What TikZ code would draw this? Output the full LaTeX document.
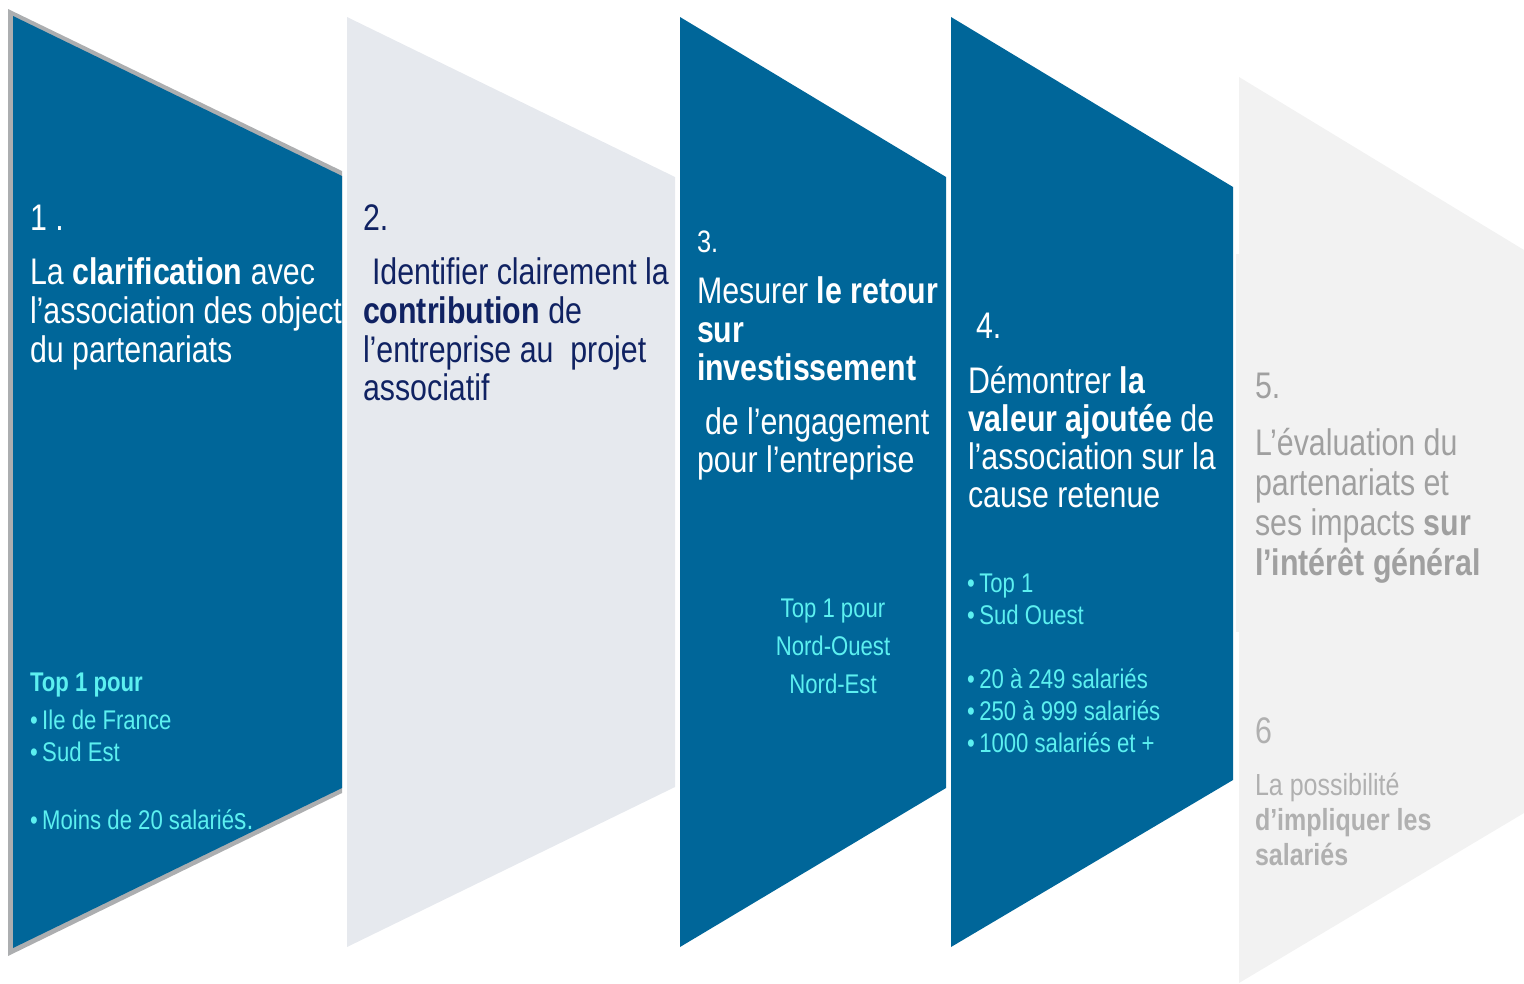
\documentclass[tikz,border=0pt]{standalone}
\usepackage{fontspec}
\setmainfont{Liberation Sans}[FakeStretch=0.82]
\definecolor{blueF}{RGB}{0,102,153}
\definecolor{edgeG}{RGB}{172,174,176}
\definecolor{lightA}{RGB}{230,233,238}
\definecolor{lightB}{RGB}{242,242,242}
\definecolor{navyT}{RGB}{16,34,98}
\definecolor{cyanT}{RGB}{92,240,240}
\definecolor{grayT}{RGB}{160,160,160}
\definecolor{grayU}{RGB}{176,176,176}
\tikzset{
  txt/.style={anchor=base west, inner sep=0pt, outer sep=0pt},
  bigf/.style={font=\fontsize{37}{39}\selectfont},
  midf/.style={font=\fontsize{31}{33}\selectfont},
  smallf/.style={font=\fontsize{27}{29}\selectfont},
  sixf/.style={font=\fontsize{30.5}{32}\selectfont},
}
\begin{document}
\begin{tikzpicture}[x=1pt,y=-1pt]
\useasboundingbox (0,0) rectangle (1524,983);
% shape 1 with grey edge
\fill[edgeG] (8,9) -- (342,171) -- (342,793) -- (8,956) -- cycle;
\fill[blueF] (13,16) -- (342,176) -- (342,788) -- (13,948) -- cycle;
\begin{scope}
\clip (13,16) -- (342,176) -- (342,788) -- (13,948) -- cycle;
\node[txt,bigf,white] (n1) at (30,230) {1 .};
\node[txt,bigf,white] (t1a) at (30,284) {La \textbf{clarification} avec};
\node[txt,bigf,white] (t1b) at (30,323) {l’association des objectifs};
\node[txt,bigf,white] (t1c) at (30,362) {du partenariats};
\node[txt,smallf,cyanT] (b1a) at (30,691) {\textbf{Top 1 pour}};
\node[txt,smallf,cyanT] (b1b) at (30,729) {•\,Ile de France};
\node[txt,smallf,cyanT] (b1c) at (30,761) {•\,Sud Est};
\node[txt,smallf,cyanT] (b1d) at (30,829) {•\,Moins de 20 salarié{\fontsize{30}{32}\selectfont s.}};
\end{scope}
% shape 2
\fill[lightA] (347,17) -- (675,177) -- (675,787) -- (347,947) -- cycle;
\node[txt,bigf,navyT] (n2) at (363,230) {2.};
\node[txt,bigf,navyT] (t2a) at (372,284) {Identifier clairement la};
\node[txt,bigf,navyT] (t2b) at (363,323) {\textbf{contribution} de};
\node[txt,bigf,navyT] (t2c) at (363,362) {l’entreprise au\ \ projet};
\node[txt,bigf,navyT] (t2d) at (363,400) {associatif};
% shape 3
\fill[blueF] (680,17) -- (946,177) -- (946,788) -- (680,947) -- cycle;
\node[txt,midf,white] (n3) at (697,252) {3.};
\node[txt,bigf,white] (t3a) at (697,303) {Mesurer \textbf{le retour}};
\node[txt,bigf,white] (t3b) at (697,342) {\textbf{sur}};
\node[txt,bigf,white] (t3c) at (697,380) {\textbf{investissement}};
\node[txt,bigf,white] (t3d) at (705,434) {de l’engagement};
\node[txt,bigf,white] (t3e) at (697,472) {pour l’entreprise};
\node[anchor=base, inner sep=0pt,smallf,cyanT] (b3a) at (833,617) {Top 1 pour};
\node[anchor=base, inner sep=0pt,smallf,cyanT] (b3b) at (833,655) {Nord-Ouest};
\node[anchor=base, inner sep=0pt,smallf,cyanT] (b3c) at (833,693) {Nord-Est};
% shape 4
\fill[blueF] (951,17) -- (1233,187) -- (1233,780) -- (951,947) -- cycle;
\node[txt,bigf,white] (n4) at (976,338) {4.};
\node[txt,bigf,white] (t4a) at (968,393) {Démontrer \textbf{la}};
\node[txt,bigf,white] (t4b) at (968,431) {\textbf{valeur ajoutée} de};
\node[txt,bigf,white] (t4c) at (968,469) {l’association sur la};
\node[txt,bigf,white] (t4d) at (968,507) {cause retenue};
\node[txt,smallf,cyanT] (b4a) at (967,592) {•\,Top 1};
\node[txt,smallf,cyanT] (b4b) at (967,624) {•\,Sud Ouest};
\node[txt,smallf,cyanT] (b4c) at (967,688) {•\,20 à 249 salariés};
\node[txt,smallf,cyanT] (b4d) at (967,720) {•\,250 à 999 salariés};
\node[txt,smallf,cyanT] (b4e) at (967,752) {•\,1000 salariés et +};
% shape 5
\fill[lightB] (1239,77) -- (1524,250) -- (1524,813) -- (1239,983) -- cycle;
\fill[lightB] (1236,254) rectangle (1524,632);
\node[txt,bigf,grayT] (n5) at (1255,398) {5.};
\node[txt,bigf,grayT] (t5a) at (1255,455) {L’évaluation du};
\node[txt,bigf,grayT] (t5b) at (1255,495) {partenariats et};
\node[txt,bigf,grayT] (t5c) at (1255,535) {ses impacts \textbf{sur}};
\node[txt,bigf,grayT] (t5d) at (1255,575) {\textbf{l’intérêt général}};
\node[txt,bigf,grayU] (n6) at (1255,743) {6};
\node[txt,sixf,grayU] (t6a) at (1255,795) {La possibilité};
\node[txt,sixf,grayU] (t6b) at (1255,830) {\textbf{d’impliquer les}};
\node[txt,sixf,grayU] (t6c) at (1255,865) {\textbf{salariés}};
\end{tikzpicture}
\end{document}
